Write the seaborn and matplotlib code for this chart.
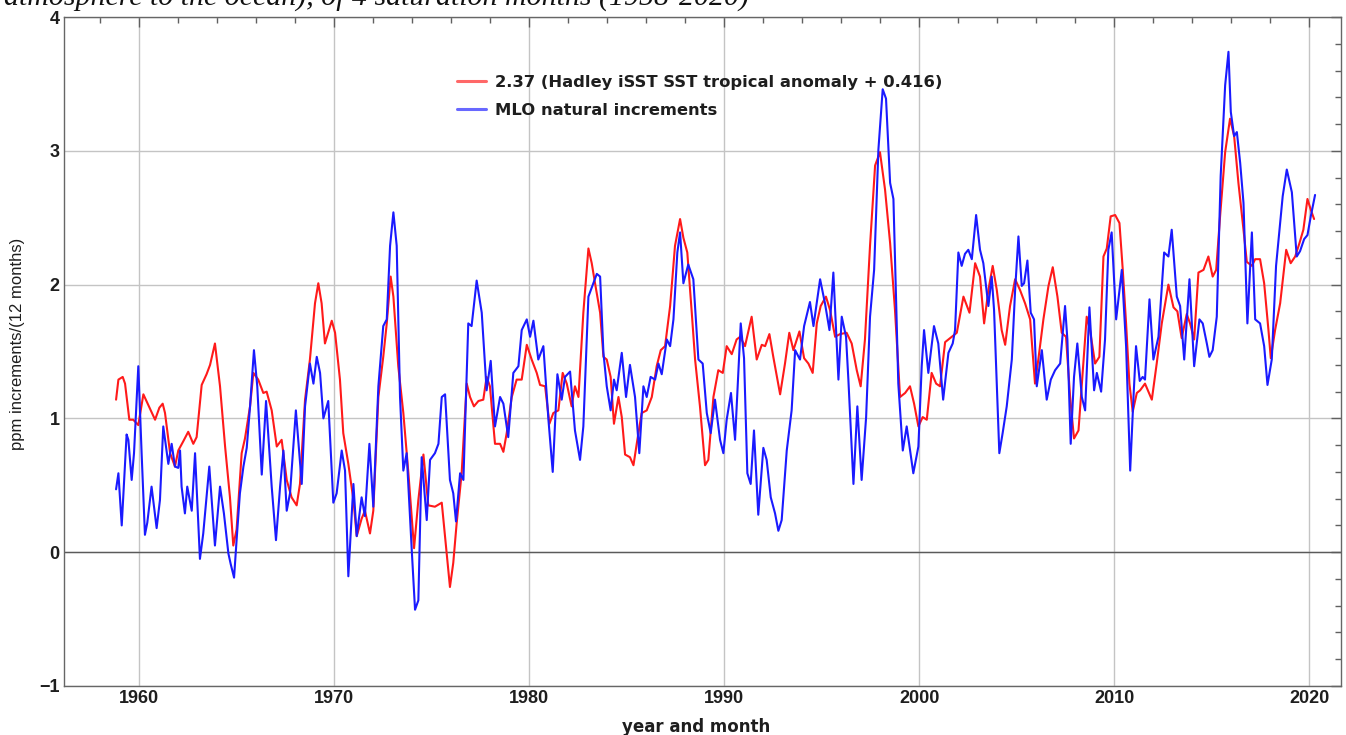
import pandas as pd
import matplotlib
matplotlib.use("Agg")
import matplotlib.pyplot as plt
from matplotlib.lines import Line2D
from matplotlib.ticker import MultipleLocator
import seaborn as sns

# Datos (año decimal, ppm / 12 meses)
red_year = [1958.81, 1958.93, 1959.15, 1959.27, 1959.49, 1959.69, 1959.95, 1960.21, 1960.46, 1960.81,
            1961.03, 1961.20, 1961.32, 1961.58, 1961.83, 1962.00, 1962.26, 1962.51, 1962.77, 1962.94,
            1963.20, 1963.45, 1963.63, 1963.88, 1964.14, 1964.40, 1964.65, 1964.82, 1964.99, 1965.25,
            1965.42, 1965.68, 1965.85, 1966.10, 1966.36, 1966.53, 1966.79, 1967.05, 1967.30, 1967.56,
            1967.81, 1968.07, 1968.24, 1968.50, 1968.75, 1969.01, 1969.18, 1969.35, 1969.52, 1969.87,
            1970.04, 1970.29, 1970.46, 1970.72, 1970.98, 1971.15, 1971.40, 1971.57, 1971.83, 1972.00,
            1972.26, 1972.51, 1972.69, 1972.89, 1973.03, 1973.28, 1973.54, 1973.80, 1974.09, 1974.31,
            1974.57, 1974.82, 1975.16, 1975.51, 1975.73, 1975.93, 1976.10, 1976.27, 1976.53, 1976.79,
            1976.96, 1977.16, 1977.39, 1977.64, 1977.81, 1977.98, 1978.24, 1978.50, 1978.67, 1978.84,
            1979.10, 1979.35, 1979.61, 1979.87, 1980.12, 1980.38, 1980.55, 1980.81, 1981.03, 1981.23,
            1981.49, 1981.71, 1981.92, 1982.17, 1982.34, 1982.52, 1982.77, 1983.03, 1983.20, 1983.37,
            1983.63, 1983.80, 1983.97, 1984.17, 1984.34, 1984.57, 1984.74, 1984.91, 1985.16, 1985.34,
            1985.54, 1985.76, 1986.02, 1986.28, 1986.53, 1986.74, 1986.96, 1987.22, 1987.47, 1987.73,
            1987.90, 1988.10, 1988.33, 1988.50, 1988.75, 1989.01, 1989.18, 1989.44, 1989.69, 1989.92,
            1990.12, 1990.38, 1990.63, 1990.81, 1991.06, 1991.40, 1991.66, 1991.92, 1992.09, 1992.31,
            1992.51, 1992.86, 1993.11, 1993.33, 1993.54, 1993.85, 1994.09, 1994.31, 1994.53, 1994.74,
            1994.94, 1995.21, 1995.42, 1995.68, 1995.93, 1996.27, 1996.53, 1996.79, 1996.99, 1997.21,
            1997.47, 1997.73, 1997.98, 1998.24, 1998.50, 1998.75, 1999.01, 1999.27, 1999.52, 1999.73,
            1999.95, 2000.17, 2000.38, 2000.63, 2000.86, 2001.06, 2001.32, 2001.66, 2001.92, 2002.26,
            2002.57, 2002.86, 2003.11, 2003.32, 2003.54, 2003.76, 2003.97, 2004.22, 2004.40, 2004.65,
            2004.91, 2005.16, 2005.42, 2005.68, 2005.93, 2006.10, 2006.36, 2006.62, 2006.84, 2007.08,
            2007.30, 2007.52, 2007.73, 2007.93, 2008.16, 2008.41, 2008.58, 2008.75, 2009.01, 2009.23,
            2009.44, 2009.61, 2009.81, 2010.04, 2010.26, 2010.43, 2010.60, 2010.77, 2010.94, 2011.15,
            2011.32, 2011.57, 2011.92, 2012.17, 2012.43, 2012.77, 2013.03, 2013.23, 2013.45, 2013.71,
            2013.88, 2014.09, 2014.31, 2014.57, 2014.82, 2015.04, 2015.22, 2015.42, 2015.68, 2015.93,
            2016.14, 2016.36, 2016.62, 2016.79, 2017.05, 2017.22, 2017.47, 2017.68, 2017.90, 2018.02,
            2018.24, 2018.50, 2018.81, 2019.04, 2019.27, 2019.49, 2019.69, 2019.90, 2020.07, 2020.24]
red_val = [1.14, 1.29, 1.31, 1.26, 0.99, 0.99, 0.95, 1.18, 1.10, 0.99,
           1.08, 1.11, 1.04, 0.74, 0.64, 0.76, 0.83, 0.90, 0.81, 0.86,
           1.25, 1.33, 1.40, 1.56, 1.24, 0.79, 0.41, 0.05, 0.17, 0.74,
           0.85, 1.09, 1.34, 1.29, 1.19, 1.20, 1.06, 0.79, 0.84, 0.54,
           0.41, 0.35, 0.51, 1.14, 1.44, 1.86, 2.01, 1.86, 1.56, 1.73,
           1.64, 1.29, 0.89, 0.66, 0.39, 0.12, 0.25, 0.31, 0.14, 0.31,
           1.16, 1.46, 1.71, 2.06, 1.91, 1.39, 1.04, 0.59, 0.03, 0.39,
           0.73, 0.35, 0.34, 0.37, 0.04, -0.26, -0.08, 0.21, 0.59, 1.26,
           1.16, 1.09, 1.13, 1.14, 1.31, 1.24, 0.81, 0.81, 0.75, 0.89,
           1.16, 1.29, 1.29, 1.55, 1.44, 1.34, 1.25, 1.24, 0.96, 1.04,
           1.06, 1.34, 1.26, 1.09, 1.24, 1.16, 1.79, 2.27, 2.16, 2.01,
           1.79, 1.46, 1.44, 1.31, 0.96, 1.16, 1.01, 0.73, 0.71, 0.65,
           0.84, 1.04, 1.06, 1.16, 1.39, 1.51, 1.54, 1.84, 2.29, 2.49,
           2.35, 2.24, 1.79, 1.44, 1.09, 0.65, 0.69, 1.16, 1.36, 1.34,
           1.54, 1.48, 1.59, 1.61, 1.54, 1.76, 1.44, 1.55, 1.54, 1.63,
           1.46, 1.18, 1.41, 1.64, 1.51, 1.65, 1.45, 1.41, 1.34, 1.71,
           1.84, 1.91, 1.81, 1.61, 1.63, 1.64, 1.56, 1.36, 1.24, 1.59,
           2.29, 2.89, 2.99, 2.71, 2.31, 1.81, 1.16, 1.19, 1.24, 1.11,
           0.94, 1.01, 0.99, 1.34, 1.26, 1.24, 1.57, 1.61, 1.64, 1.91,
           1.79, 2.16, 2.06, 1.71, 1.96, 2.14, 1.96, 1.66, 1.55, 1.84,
           2.04, 1.96, 1.86, 1.74, 1.26, 1.44, 1.74, 1.99, 2.13, 1.91,
           1.64, 1.61, 1.16, 0.85, 0.91, 1.41, 1.76, 1.66, 1.41, 1.46,
           2.21, 2.27, 2.51, 2.52, 2.46, 2.11, 1.71, 1.26, 1.05, 1.19,
           1.21, 1.26, 1.14, 1.41, 1.71, 2.00, 1.83, 1.80, 1.60, 1.78,
           1.71, 1.59, 2.09, 2.11, 2.21, 2.06, 2.11, 2.51, 2.99, 3.24,
           3.11, 2.76, 2.41, 2.17, 2.14, 2.19, 2.19, 2.01, 1.66, 1.45,
           1.66, 1.86, 2.26, 2.16, 2.21, 2.31, 2.41, 2.64, 2.56, 2.49]

blue_year = [1958.81, 1958.93, 1959.10, 1959.35, 1959.44, 1959.61, 1959.73, 1959.95, 1960.12, 1960.29,
             1960.41, 1960.63, 1960.89, 1961.06, 1961.23, 1961.40, 1961.49, 1961.66, 1961.83, 1962.00,
             1962.09, 1962.17, 1962.34, 1962.46, 1962.69, 1962.86, 1963.11, 1963.28, 1963.59, 1963.88,
             1964.14, 1964.34, 1964.57, 1964.69, 1964.86, 1964.99, 1965.16, 1965.34, 1965.51, 1965.68,
             1965.88, 1966.05, 1966.28, 1966.50, 1966.67, 1966.79, 1967.01, 1967.22, 1967.39, 1967.56,
             1967.73, 1968.03, 1968.33, 1968.50, 1968.75, 1968.93, 1969.10, 1969.27, 1969.44, 1969.69,
             1969.95, 1970.12, 1970.38, 1970.55, 1970.72, 1970.98, 1971.15, 1971.40, 1971.57, 1971.80,
             1972.00, 1972.26, 1972.51, 1972.69, 1972.86, 1973.03, 1973.20, 1973.37, 1973.54, 1973.71,
             1973.97, 1974.14, 1974.31, 1974.48, 1974.74, 1974.91, 1975.16, 1975.34, 1975.51, 1975.68,
             1975.93, 1976.10, 1976.24, 1976.45, 1976.62, 1976.87, 1977.04, 1977.30, 1977.56, 1977.81,
             1978.02, 1978.24, 1978.50, 1978.67, 1978.92, 1979.18, 1979.44, 1979.61, 1979.87, 1980.04,
             1980.21, 1980.46, 1980.72, 1980.98, 1981.20, 1981.44, 1981.66, 1981.83, 1982.09, 1982.34,
             1982.46, 1982.60, 1982.77, 1983.03, 1983.28, 1983.46, 1983.63, 1983.80, 1983.97, 1984.17,
             1984.34, 1984.48, 1984.74, 1984.96, 1985.16, 1985.42, 1985.64, 1985.85, 1986.02, 1986.22,
             1986.45, 1986.62, 1986.79, 1987.05, 1987.22, 1987.39, 1987.59, 1987.73, 1987.90, 1988.15,
             1988.41, 1988.67, 1988.89, 1989.10, 1989.30, 1989.52, 1989.78, 1989.95, 1990.12, 1990.34,
             1990.55, 1990.84, 1991.01, 1991.18, 1991.35, 1991.52, 1991.74, 1992.00, 1992.17, 1992.38,
             1992.60, 1992.77, 1992.94, 1993.20, 1993.45, 1993.63, 1993.88, 1994.09, 1994.39, 1994.57,
             1994.91, 1995.16, 1995.39, 1995.59, 1995.85, 1996.02, 1996.24, 1996.36, 1996.62, 1996.82,
             1997.04, 1997.27, 1997.47, 1997.68, 1997.90, 1998.12, 1998.29, 1998.50, 1998.67, 1998.92,
             1999.15, 1999.35, 1999.69, 1999.95, 2000.12, 2000.24, 2000.46, 2000.75, 2000.97, 2001.22,
             2001.49, 2001.71, 2001.83, 2002.00, 2002.17, 2002.34, 2002.51, 2002.69, 2002.91, 2003.11,
             2003.28, 2003.54, 2003.71, 2003.83, 2004.10, 2004.27, 2004.48, 2004.74, 2004.91, 2005.08,
             2005.25, 2005.37, 2005.54, 2005.71, 2005.88, 2006.02, 2006.28, 2006.53, 2006.74, 2006.96,
             2007.22, 2007.47, 2007.59, 2007.76, 2007.93, 2008.10, 2008.33, 2008.50, 2008.72, 2008.96,
             2009.10, 2009.32, 2009.52, 2009.69, 2009.86, 2010.09, 2010.38, 2010.60, 2010.81, 2010.98,
             2011.11, 2011.30, 2011.45, 2011.57, 2011.80, 2012.00, 2012.26, 2012.55, 2012.77, 2012.94,
             2013.20, 2013.37, 2013.58, 2013.85, 2014.09, 2014.36, 2014.53, 2014.74, 2014.87, 2015.04,
             2015.25, 2015.45, 2015.68, 2015.85, 2015.97, 2016.14, 2016.28, 2016.45, 2016.62, 2016.82,
             2017.05, 2017.22, 2017.47, 2017.68, 2017.85, 2018.07, 2018.29, 2018.63, 2018.84, 2019.10,
             2019.35, 2019.52, 2019.73, 2019.90, 2020.07, 2020.29]
blue_val = [0.47, 0.59, 0.20, 0.88, 0.84, 0.54, 0.74, 1.39, 0.74, 0.13,
            0.22, 0.49, 0.18, 0.39, 0.94, 0.76, 0.66, 0.81, 0.64, 0.63,
            0.76, 0.49, 0.29, 0.49, 0.31, 0.74, -0.05, 0.14, 0.64, 0.05,
            0.49, 0.29, -0.01, -0.09, -0.19, 0.09, 0.44, 0.64, 0.78, 1.09,
            1.51, 1.24, 0.58, 1.13, 0.76, 0.49, 0.09, 0.49, 0.76, 0.31,
            0.44, 1.06, 0.51, 1.09, 1.41, 1.26, 1.46, 1.34, 1.00, 1.13,
            0.37, 0.44, 0.76, 0.61, -0.18, 0.51, 0.12, 0.41, 0.27, 0.81,
            0.34, 1.24, 1.69, 1.74, 2.29, 2.54, 2.29, 1.16, 0.61, 0.74,
            0.02, -0.43, -0.36, 0.71, 0.24, 0.69, 0.74, 0.81, 1.16, 1.18,
            0.54, 0.44, 0.23, 0.59, 0.54, 1.71, 1.69, 2.03, 1.79, 1.21,
            1.43, 0.94, 1.16, 1.11, 0.86, 1.34, 1.39, 1.66, 1.74, 1.61,
            1.73, 1.44, 1.54, 0.99, 0.60, 1.33, 1.14, 1.31, 1.35, 0.91,
            0.81, 0.69, 0.94, 1.91, 2.01, 2.08, 2.06, 1.49, 1.24, 1.06,
            1.29, 1.21, 1.49, 1.16, 1.40, 1.16, 0.74, 1.24, 1.16, 1.31,
            1.29, 1.41, 1.33, 1.59, 1.54, 1.74, 2.24, 2.39, 2.01, 2.15,
            2.04, 1.44, 1.41, 1.04, 0.89, 1.14, 0.84, 0.74, 0.99, 1.19,
            0.84, 1.71, 1.45, 0.59, 0.51, 0.91, 0.28, 0.78, 0.69, 0.41,
            0.29, 0.16, 0.24, 0.76, 1.06, 1.51, 1.44, 1.69, 1.87, 1.69,
            2.04, 1.86, 1.66, 2.09, 1.29, 1.76, 1.61, 1.29, 0.51, 1.09,
            0.54, 1.01, 1.76, 2.11, 3.01, 3.46, 3.39, 2.76, 2.64, 1.26,
            0.76, 0.94, 0.59, 0.79, 1.39, 1.66, 1.34, 1.69, 1.56, 1.14,
            1.49, 1.56, 1.66, 2.24, 2.14, 2.23, 2.26, 2.19, 2.52, 2.26,
            2.16, 1.84, 2.06, 1.81, 0.74, 0.89, 1.09, 1.44, 1.96, 2.36,
            1.99, 2.01, 2.18, 1.79, 1.74, 1.24, 1.51, 1.14, 1.29, 1.36,
            1.41, 1.84, 1.59, 0.81, 1.31, 1.56, 1.16, 1.06, 1.83, 1.21,
            1.34, 1.20, 1.59, 2.26, 2.39, 1.74, 2.11, 1.54, 0.61, 1.16,
            1.54, 1.28, 1.31, 1.29, 1.89, 1.44, 1.61, 2.24, 2.21, 2.41,
            1.91, 1.84, 1.44, 2.04, 1.39, 1.74, 1.71, 1.56, 1.46, 1.51,
            1.76, 2.81, 3.49, 3.74, 3.29, 3.11, 3.14, 2.91, 2.61, 1.71,
            2.39, 1.74, 1.71, 1.54, 1.25, 1.44, 2.14, 2.66, 2.86, 2.69,
            2.21, 2.25, 2.34, 2.37, 2.51, 2.67]

red_label = "2.37 (Hadley iSST SST tropical anomaly + 0.416)"
blue_label = "MLO natural increments"
colores = {red_label: "#ff1a1a", blue_label: "#1a1aff"}

df = pd.concat([
    pd.DataFrame({"year": red_year, "value": red_val, "serie": red_label}),
    pd.DataFrame({"year": blue_year, "value": blue_val, "serie": blue_label}),
], ignore_index=True)

sns.set_style("white")
plt.rcParams['font.family'] = ['Liberation Sans', 'DejaVu Sans']

W, H = 1346, 735
fig = plt.figure(figsize=(W / 100, H / 100), dpi=100)
ax = fig.add_axes([64 / W, 1 - 686 / H, (1341 - 64) / W, (686 - 17) / H])

# grilla y linea del cero
ax.set_axisbelow(True)
ax.grid(True, which='major', color='#c4c4c4', linewidth=1.0)
ax.axhline(0, color='#5a5a5a', linewidth=1.0, zorder=1)

sns.lineplot(data=df, x="year", y="value", hue="serie", palette=colores,
             estimator=None, sort=False, linewidth=1.5, legend=False, ax=ax)

ax.set_xlim(1956.14, 2021.62)
ax.set_ylim(-1, 4)
ax.xaxis.set_major_locator(MultipleLocator(10))
ax.xaxis.set_minor_locator(MultipleLocator(2))
ax.yaxis.set_major_locator(MultipleLocator(1))
ax.yaxis.set_minor_locator(MultipleLocator(0.2))
ax.tick_params(which='both', direction='in', top=True, right=True, color='#606060')
ax.tick_params(which='major', length=7, width=1)
ax.tick_params(which='minor', length=4, width=1)
ax.tick_params(axis='x', pad=3, labelsize=13, labelcolor='#1e1e1e')
ax.tick_params(axis='y', pad=3, labelsize=13, labelcolor='#1e1e1e')
for lab in ax.get_xticklabels() + ax.get_yticklabels():
    lab.set_fontweight('bold')
for sp in ax.spines.values():
    sp.set_color('#666666')
    sp.set_linewidth(1.0)

ax.set_xlabel("")
ax.set_ylabel("")
fig.text(696 / W, 1 - 727 / H, "year and month", ha='center', va='center',
         fontsize=12, fontweight='bold', family=['DejaVu Sans'], color='#1e1e1e')
fig.text(18 / W, 1 - 344 / H, "ppm increments/(12 months)", ha='center', va='center',
         rotation=90, fontsize=12, color='#1e1e1e')

# leyenda
handles = [Line2D([], [], color='#ff6868', lw=2.2), Line2D([], [], color='#6868ff', lw=2.2)]
leg = ax.legend(handles, [red_label, blue_label], frameon=False, loc='upper left',
                bbox_to_anchor=(457 / W, 1 - 75 / H), bbox_transform=fig.transFigure,
                borderpad=0, borderaxespad=0, handlelength=1.75, handletextpad=0.55,
                labelspacing=0.8, prop={'weight': 'bold', 'size': 11.8, 'family': 'DejaVu Sans'})
for t in leg.get_texts():
    t.set_color('#1e1e1e')

# texto cortado de arriba (pie de figura anterior)
fig.text(4 / W, 1 - 6 / H, "atmosphere to the ocean), of 4 saturation months (1958-2020)",
         fontsize=21.5, fontstyle='italic', family=['Liberation Serif', 'DejaVu Serif'],
         va='baseline', color='#111111')

fig.savefig("out.png", dpi=100)
